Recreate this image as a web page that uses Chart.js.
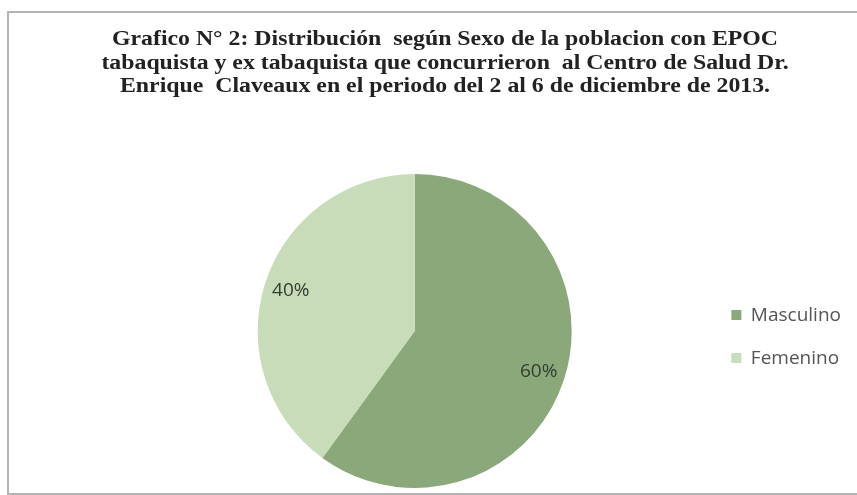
<!DOCTYPE html>
<html>
<head>
<meta charset="utf-8">
<script src="https://cdn.jsdelivr.net/npm/chart.js@4"></script>
<style>
  body { margin: 0; background: #fff; }
  #frame {
    position: absolute; left: 7px; top: 11px; width: 860px; height: 480px;
    border: 2px solid #b4b4b4; border-right: none;
  }
  #wrap { position: absolute; left: 0; top: 0; width: 857px; height: 495px; }
</style>
</head>
<body>
<div id="frame"></div>
<div id="wrap"><canvas id="chart"></canvas></div>
<script>
// datos del grafico
const labels = ["Masculino", "Femenino"];
const values = [60, 40];
const colors = ["#8aa87a", "#c8dcba"];
const titleLines = [
    "Grafico N° 2: Distribución  según Sexo de la poblacion con EPOC",
    "tabaquista y ex tabaquista que concurrieron  al Centro de Salud Dr.",
    "Enrique  Claveaux en el periodo del 2 al 6 de diciembre de 2013."
];

// titulo: el escaneo lo deja mas ancho que la fuente, se estira en x
const wideTitle = {
    id: "wideTitle",
    afterDraw(chart) {
        const ctx = chart.ctx;
        ctx.save();
        ctx.font = "bold 20px 'Liberation Serif', serif";
        ctx.fillStyle = "#222";
        ctx.textAlign = "center";
        ctx.textBaseline = "middle";
        const sx = 666 / ctx.measureText(titleLines[0]).width;
        ctx.translate(445, 0);
        ctx.scale(sx, 1);
        titleLines.forEach((line, i) => ctx.fillText(line, 0, 40 + i * 23.5));
        ctx.restore();
    }
};

// etiquetas de porcentaje dentro de cada porcion
const pctLabels = {
    id: "pctLabels",
    afterDatasetsDraw(chart) {
        const ctx = chart.ctx;
        const meta = chart.getDatasetMeta(0);
        const total = values.reduce((a, b) => a + b, 0);
        ctx.save();
        ctx.font = "19px 'Open Sans', sans-serif";
        ctx.fillStyle = "#333d30";
        ctx.textAlign = "center";
        ctx.textBaseline = "middle";
        meta.data.forEach((arc, i) => {
            const mid = (arc.startAngle + arc.endAngle) / 2;
            const r = arc.outerRadius * 0.83;
            const x = arc.x + Math.cos(mid) * r;
            const y = arc.y + Math.sin(mid) * r;
            ctx.fillText(Math.round(values[i] / total * 100) + "%", x, y);
        });
        ctx.restore();
    }
};

new Chart(document.getElementById("chart"), {
    type: "pie",
    data: {
        labels: labels,
        datasets: [{
            data: values,
            backgroundColor: colors,
            borderWidth: 0
        }]
    },
    options: {
        responsive: true,
        maintainAspectRatio: false,
        animation: false,
        layout: { padding: { top: 174, bottom: 7, left: 122, right: 6 } },
        plugins: {
            title: { display: false },
            legend: {
                position: "right",
                title: { display: true, text: " ", font: { size: 1 }, padding: 5 },
                labels: {
                    boxWidth: 10,
                    boxHeight: 10,
                    padding: 24,
                    color: "#555",
                    font: { family: "'Open Sans', sans-serif", size: 19 }
                }
            },
            tooltip: { enabled: false }
        }
    },
    plugins: [pctLabels, wideTitle]
});
</script>
</body>
</html>
